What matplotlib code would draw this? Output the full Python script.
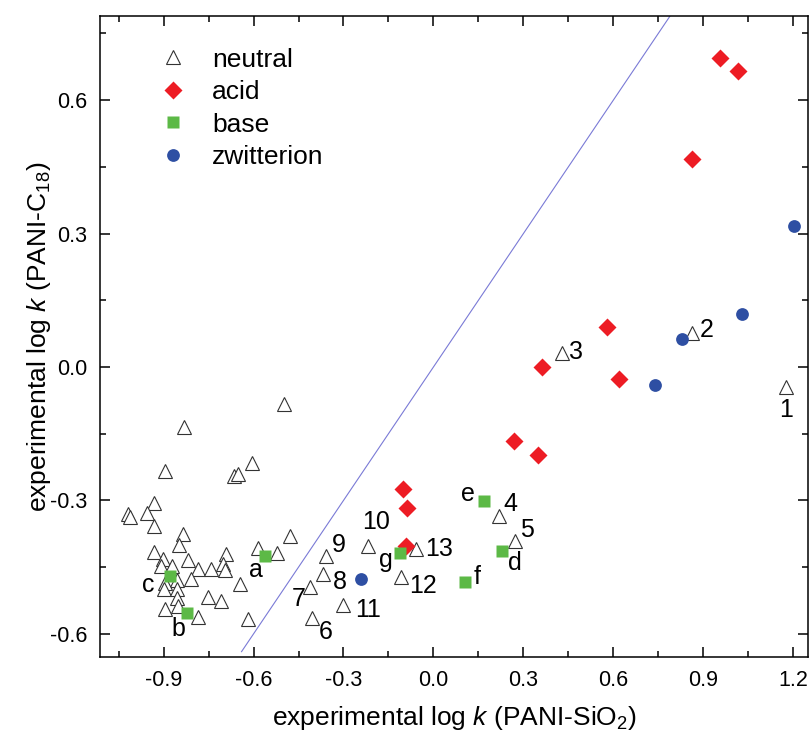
import matplotlib
matplotlib.use("Agg")
import matplotlib.pyplot as plt

plt.rcParams['font.family'] = ['Liberation Sans', 'DejaVu Sans']
plt.rcParams['mathtext.fontset'] = 'custom'
plt.rcParams['mathtext.rm'] = 'Liberation Sans'
plt.rcParams['mathtext.it'] = 'Liberation Sans:italic'

# neutral compounds (unlabelled)
neutral_x = [-0.497, -0.831, -0.895, -0.606, -0.664, -0.653, -1.017, -1.012, -0.931, -0.954,
             -0.931, -0.834, -0.848, -0.931, -0.901, -0.817, -0.692, -0.701, -0.695, -0.909,
             -0.871, -0.786, -0.742, -0.808, -0.856, -0.895, -0.897, -0.856, -0.856, -0.751,
             -0.709, -0.895, -0.853, -0.784, -0.645, -0.584, -0.523, -0.478, -0.617]
neutral_y = [-0.084, -0.135, -0.234, -0.216, -0.244, -0.240, -0.330, -0.337, -0.306, -0.328,
             -0.358, -0.375, -0.401, -0.416, -0.431, -0.433, -0.421, -0.442, -0.457, -0.448,
             -0.448, -0.454, -0.455, -0.476, -0.478, -0.486, -0.499, -0.499, -0.519, -0.517,
             -0.525, -0.544, -0.538, -0.562, -0.487, -0.406, -0.418, -0.381, -0.566]

# numbered neutral compounds
num_labels = ['1', '2', '3', '4', '5', '6', '7', '8', '9', '10', '11', '12', '13']
num_x = [1.174, 0.861, 0.429, 0.218, 0.273, -0.404, -0.412, -0.367, -0.359, -0.217, -0.303, -0.109, -0.058]
num_y = [-0.046, 0.076, 0.031, -0.336, -0.392, -0.564, -0.495, -0.465, -0.424, -0.403, -0.536, -0.472, -0.409]
num_tx = [1.177, 0.911, 0.475, 0.257, 0.313, -0.358, -0.451, -0.312, -0.314, -0.193, -0.218, -0.034, 0.019]
num_ty = [-0.096, 0.083, 0.034, -0.309, -0.367, -0.596, -0.521, -0.484, -0.401, -0.349, -0.547, -0.493, -0.409]

acid_x = [0.956, 1.015, 0.861, 0.580, 0.619, 0.361, 0.267, 0.350, -0.102, -0.089, -0.091]
acid_y = [0.695, 0.666, 0.467, 0.090, -0.028, 0.000, -0.166, -0.198, -0.274, -0.317, -0.403]

base_labels = ['a', 'b', 'c', 'd', 'e', 'f', 'g']
base_x = [-0.562, -0.823, -0.878, 0.228, 0.167, 0.106, -0.111]
base_y = [-0.426, -0.553, -0.471, -0.414, -0.301, -0.483, -0.419]
base_tx = [-0.592, -0.851, -0.951, 0.272, 0.116, 0.144, -0.158]
base_ty = [-0.457, -0.589, -0.491, -0.441, -0.285, -0.472, -0.435]

zwit_x = [1.202, 1.029, 0.828, 0.738, -0.242]
zwit_y = [0.317, 0.119, 0.064, -0.041, -0.476]

fig = plt.figure(figsize=(8.12, 7.36), dpi=100)
ax = fig.add_axes([100 / 812, 1 - 657 / 736, 708 / 812, 641 / 736])

# y = x reference line
ax.plot([-0.64, 0.80], [-0.64, 0.80], color='#7a7ad6', lw=0.8, zorder=1)

tri = dict(ls='none', marker='^', ms=9.4, mfc='white', mec='#333333', mew=0.8)
ax.plot(neutral_x + num_x, neutral_y + num_y, label='neutral', zorder=2, **tri)
ax.plot(acid_x, acid_y, ls='none', marker='D', ms=9.0, color='#ed1c24', mec='none',
        label='acid', zorder=3)
ax.plot(base_x, base_y, ls='none', marker='s', ms=8.4, color='#5cb946', mec='none',
        label='base', zorder=3)
ax.plot(zwit_x, zwit_y, ls='none', marker='o', ms=9.2, color='#2e4fa3', mec='none',
        label='zwitterion', zorder=3)

for t, x, y in zip(num_labels, num_tx, num_ty):
    ax.text(x, y, t, fontsize=18, ha='center', va='center')
for t, x, y in zip(base_labels, base_tx, base_ty):
    ax.text(x, y, t, fontsize=18, ha='center', va='center')

ax.set_xlim(-1.112, 1.249)
ax.set_ylim(-0.652, 0.789)
ax.set_xticks([-0.9, -0.6, -0.3, 0.0, 0.3, 0.6, 0.9, 1.2])
ax.set_xticks([-1.05, -0.75, -0.45, -0.15, 0.15, 0.45, 0.75, 1.05], minor=True)
ax.set_yticks([-0.6, -0.3, 0.0, 0.3, 0.6])
ax.set_yticks([-0.45, -0.15, 0.15, 0.45, 0.75], minor=True)
ax.xaxis.set_major_formatter(plt.FormatStrFormatter('%.1f'))
ax.yaxis.set_major_formatter(plt.FormatStrFormatter('%.1f'))
ax.tick_params(which='both', direction='in', top=True, right=True, width=1.1,
               labelsize=15.5)
ax.tick_params(which='major', length=7, pad=9)
ax.tick_params(which='minor', length=4)
for s in ax.spines.values():
    s.set_linewidth(1.1)

ax.set_xlabel('experimental log $k$ (PANI-SiO$_2$)', fontsize=19, labelpad=10)
ax.set_ylabel('experimental log $k$ (PANI-C$_{18}$)', fontsize=19, labelpad=-2)

ax.legend(loc='upper left', bbox_to_anchor=(0.069, 0.967), frameon=False, fontsize=19,
          handletextpad=1.0, labelspacing=0.32, handlelength=1.0, borderaxespad=0)

fig.savefig('out.png', dpi=100)
